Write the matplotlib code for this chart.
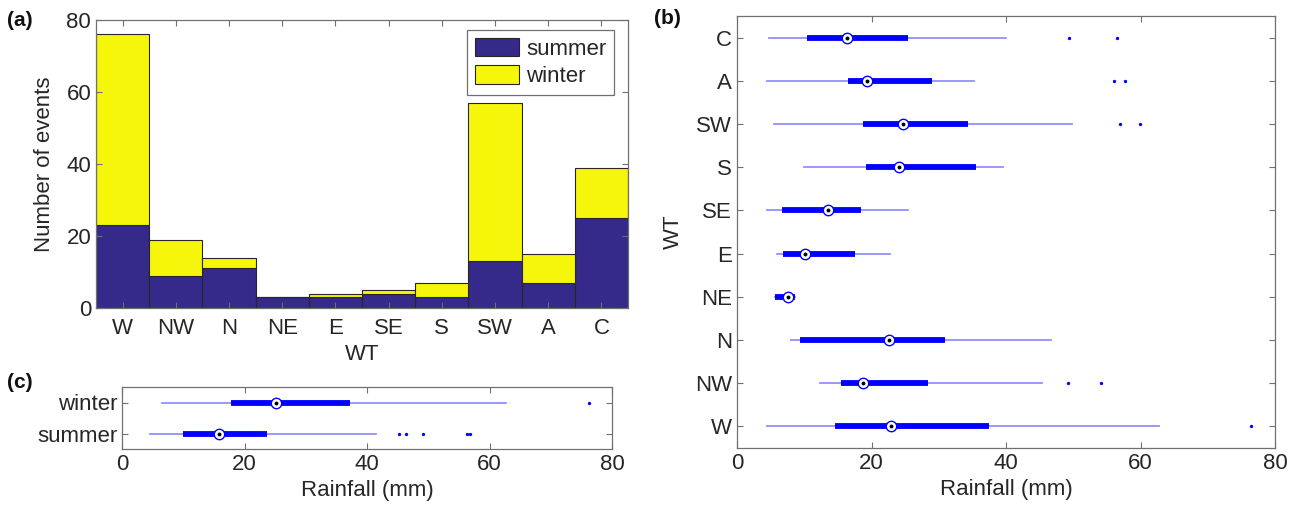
import matplotlib
matplotlib.use("Agg")
import matplotlib.pyplot as plt

plt.rcParams["font.family"] = ["Liberation Sans", "DejaVu Sans"]

# weather types, bottom-to-top order in (b), left-to-right in (a)
wt = ["W", "NW", "N", "NE", "E", "SE", "S", "SW", "A", "C"]
summer_counts = [23, 9, 11, 3, 3, 4, 3, 13, 7, 25]
winter_counts = [53, 10, 3, 0, 1, 1, 4, 44, 8, 14]

# rainfall per weather type (mm): whisker ends, quartiles, median, outliers
wt_lo = [4.4, 12.4, 8.1, 5.6, 5.9, 4.4, 10.0, 5.5, 4.4, 4.7]
wt_q1 = [14.6, 15.5, 9.3, 5.6, 6.9, 6.7, 19.2, 18.8, 16.5, 10.4]
wt_med = [22.9, 18.8, 22.6, 7.6, 10.1, 13.5, 24.1, 24.7, 19.3, 16.4]
wt_q3 = [37.4, 28.4, 31.0, 8.6, 17.6, 18.5, 35.5, 34.3, 29.0, 25.5]
wt_hi = [62.8, 45.4, 46.7, 8.6, 22.7, 25.5, 39.6, 49.8, 35.2, 40.0]
wt_out = [[76.4], [49.2, 54.2], [], [], [], [], [], [56.9, 59.9], [56.1, 57.7], [49.3, 56.5]]

# rainfall per season (mm)
season = ["summer", "winter"]
season_lo = [4.5, 6.5]
season_q1 = [10.0, 17.8]
season_med = [15.8, 25.2]
season_q3 = [23.7, 37.2]
season_hi = [41.4, 62.7]
season_out = [[45.3, 46.4, 49.1, 56.4, 56.8], [76.2]]

TEXT = "#262626"
FRAME = "#707070"
C_SUMMER = "#35298a"
C_WINTER = "#f6f60a"
C_BOX = "#0000ff"
C_WHISKER = "#9090ff"
FS = 16


def style_axes(ax):
    for s in ax.spines.values():
        s.set_color(FRAME)
        s.set_linewidth(0.9)
    ax.tick_params(direction="in", length=4, width=0.8, color=FRAME,
                   labelcolor=TEXT, labelsize=FS, top=True, right=True)


def compact_box(ax, pos, lo, q1, med, q3, hi, out):
    ax.plot([lo, hi], [pos, pos], color=C_WHISKER, lw=1.3, zorder=2)
    ax.plot([q1, q3], [pos, pos], color=C_BOX, lw=4.2, solid_capstyle="butt", zorder=3)
    ax.plot(med, pos, "o", ms=7.5, mfc="white", mec=C_BOX, mew=1.0, zorder=4)
    ax.plot(med, pos, "o", ms=1.8, color="black", zorder=5)
    if out:
        ax.plot(out, [pos] * len(out), "o", ms=2.4, color=C_BOX, mec="none", zorder=3)


W, H = 1306, 515
fig = plt.figure(figsize=(W / 100, H / 100), dpi=100)
fig.patch.set_facecolor("white")

# (a) stacked counts
ax_a = fig.add_axes([96 / W, 1 - 308 / H, 532 / W, 288 / H])
x = range(len(wt))
ax_a.bar(x, summer_counts, width=1, color=C_SUMMER, edgecolor="#262626", lw=0.8, label="summer")
ax_a.bar(x, winter_counts, width=1, bottom=summer_counts, color=C_WINTER,
         edgecolor="#262626", lw=0.8, label="winter")
ax_a.set_xlim(-0.5, len(wt) - 0.5)
ax_a.set_ylim(0, 80)
ax_a.set_yticks(range(0, 81, 20))
ax_a.set_xticks(list(x), wt)
ax_a.set_xlabel("WT", fontsize=FS, color=TEXT, labelpad=4)
ax_a.set_ylabel("Number of events", fontsize=FS, color=TEXT, labelpad=8)
style_axes(ax_a)
ax_a.tick_params(axis="x", pad=7)
leg = ax_a.legend(loc="upper right", bbox_to_anchor=(1 - 14 / 532, 1 - 10 / 288),
                  borderaxespad=0, fontsize=FS, fancybox=False, framealpha=1,
                  edgecolor=FRAME, handlelength=2.0, handleheight=0.9,
                  handletextpad=0.3, borderpad=0.35, labelspacing=0.25)
leg.get_frame().set_linewidth(0.9)
for t in leg.get_texts():
    t.set_color(TEXT)

# (c) seasonal rainfall
ax_c = fig.add_axes([122 / W, 1 - 449 / H, 490 / W, 62 / H])
for i in range(len(season)):
    compact_box(ax_c, i + 1, season_lo[i], season_q1[i], season_med[i],
                season_q3[i], season_hi[i], season_out[i])
ax_c.set_xlim(0, 80)
ax_c.set_ylim(0.5, len(season) + 0.5)
ax_c.set_xticks(range(0, 81, 20))
ax_c.set_yticks(range(1, len(season) + 1), season)
ax_c.set_xlabel("Rainfall (mm)", fontsize=FS, color=TEXT, labelpad=4)
style_axes(ax_c)

# (b) rainfall per weather type
ax_b = fig.add_axes([737 / W, 1 - 448 / H, 538 / W, 432 / H])
for i in range(len(wt)):
    compact_box(ax_b, i + 1, wt_lo[i], wt_q1[i], wt_med[i], wt_q3[i], wt_hi[i], wt_out[i])
ax_b.set_xlim(0, 80)
ax_b.set_ylim(0.5, len(wt) + 0.5)
ax_b.set_xticks(range(0, 81, 20))
ax_b.set_yticks(range(1, len(wt) + 1), wt)
ax_b.set_xlabel("Rainfall (mm)", fontsize=FS, color=TEXT, labelpad=4)
ax_b.set_ylabel("WT", fontsize=FS, color=TEXT, labelpad=8)
style_axes(ax_b)

for label, px, py in [("(a)", 7, 21), ("(b)", 654, 19), ("(c)", 7, 383)]:
    fig.text(px / W, 1 - py / H, label, fontsize=15, fontweight="bold",
             color="#111111", va="center", ha="left")

fig.savefig("out.png", dpi=100)
